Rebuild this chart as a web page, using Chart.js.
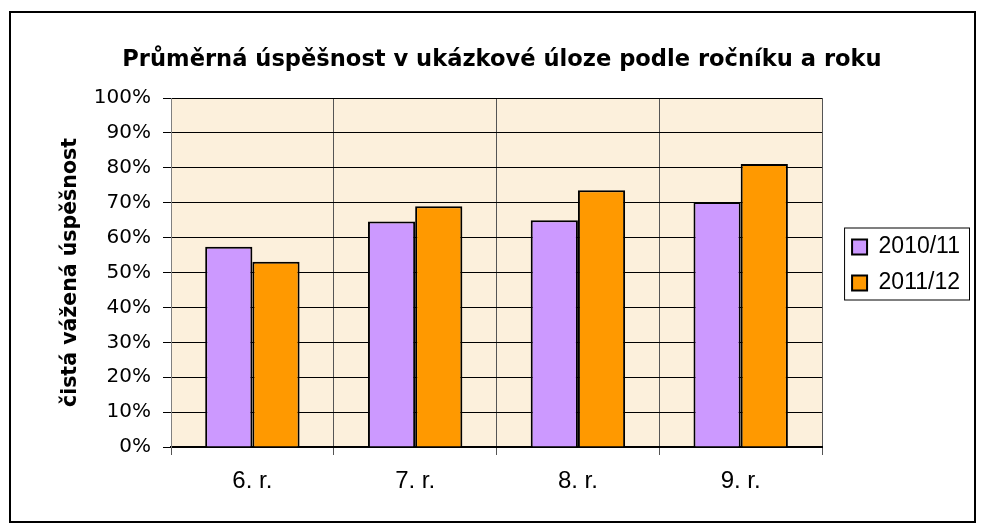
<!DOCTYPE html>
<html>
<head>
<meta charset="utf-8">
<script src="https://cdn.jsdelivr.net/npm/chart.js@4/dist/chart.umd.min.js"></script>
<style>
  body { margin: 0; background: #fff; }
</style>
</head>
<body>
<canvas id="successChart" width="985" height="530"></canvas>
<script>
// data
const categories = ['6. r.', '7. r.', '8. r.', '9. r.'];
const seriesNames = ['2010/11', '2011/12'];
const values2010 = [57.4, 64.6, 65.0, 70.2];
const values2011 = [53.1, 69.0, 73.6, 81.1];
const yTickStep = 10;

Chart.defaults.font.family = 'DejaVu Sans';
Chart.defaults.color = '#000';

// beige plot area + outer frame + legend frame
const framePlugin = {
    id: 'frames',
    beforeDraw(chart) {
        const {ctx, chartArea: a} = chart;
        ctx.save();
        ctx.fillStyle = '#fcf0dc';
        ctx.fillRect(a.left, a.top, a.right - a.left, a.bottom - a.top);
        ctx.restore();
    },
    afterDraw(chart) {
        const ctx = chart.ctx;
        ctx.save();
        ctx.strokeStyle = '#000';
        ctx.lineWidth = 2;
        ctx.strokeRect(10, 12, 965, 510);
        const boxes = chart.legend.legendHitBoxes;
        if (boxes && boxes.length) {
            const first = boxes[0];
            const last = boxes[boxes.length - 1];
            const left = first.left - 8;
            const top = first.top - 8;
            const right = first.left + first.width + 9;
            const bottom = last.top + last.height + 5;
            ctx.lineWidth = 1;
            ctx.strokeRect(left + 0.5, top + 0.5, right - left, bottom - top);
        }
        ctx.restore();
    }
};

const successCtx = document.getElementById('successChart').getContext('2d');
const successChart = new Chart(successCtx, {
    type: 'bar',
    data: {
        labels: categories,
        datasets: [{
            label: seriesNames[0],
            data: values2010,
            backgroundColor: '#cc99ff',
            borderColor: '#000',
            borderWidth: 2
        }, {
            label: seriesNames[1],
            data: values2011,
            backgroundColor: '#ff9900',
            borderColor: '#000',
            borderWidth: 2
        }]
    },
    options: {
        responsive: false,
        animation: false,
        layout: {
            padding: {left: 34, right: 15, top: 34, bottom: 34}
        },
        datasets: {
            bar: {
                categoryPercentage: 0.58,
                barPercentage: 1.0
            }
        },
        plugins: {
            tooltip: {enabled: false},
            title: {
                display: true,
                text: 'Průměrná úspěšnost v ukázkové úloze podle ročníku a roku',
                font: {size: 22.6, weight: 'bold'},
                color: '#000',
                padding: {top: 12.4, bottom: 24.5}
            },
            legend: {
                position: 'right',
                labels: {
                    font: {family: 'Liberation Sans', size: 23},
                    color: '#000',
                    boxWidth: 15,
                    boxHeight: 15,
                    padding: 13
                }
            }
        },
        scales: {
            x: {
                grid: {
                    color: '#555',
                    tickColor: '#555',
                    tickLength: 8,
                    offset: true
                },
                border: {color: '#000', width: 2},
                ticks: {
                    font: {family: 'Liberation Sans', size: 24},
                    color: '#000',
                    padding: 12,
                    maxRotation: 0,
                    autoSkip: false
                },
                afterFit: (scale) => { scale.height = 49; }
            },
            y: {
                min: 0,
                max: 100,
                ticks: {
                    stepSize: yTickStep,
                    callback: (v) => v + '%',
                    font: {size: 20},
                    color: '#000',
                    padding: 12
                },
                grid: {color: '#000', tickLength: 8},
                border: {color: '#808080'},
                title: {
                    display: true,
                    text: 'čistá vážená úspěšnost',
                    font: {size: 20.5, weight: 'bold'},
                    color: '#000',
                    padding: {top: 24, bottom: 0}
                },
                afterFit: (scale) => { scale.width = 137; }
            },
            // empty spacer between plot and legend
            gap: {
                type: 'linear',
                position: 'right',
                display: true,
                grid: {display: false},
                ticks: {display: false},
                border: {display: false},
                afterFit: (scale) => { scale.width = 17; }
            }
        }
    },
    plugins: [framePlugin]
});
</script>
</body>
</html>
